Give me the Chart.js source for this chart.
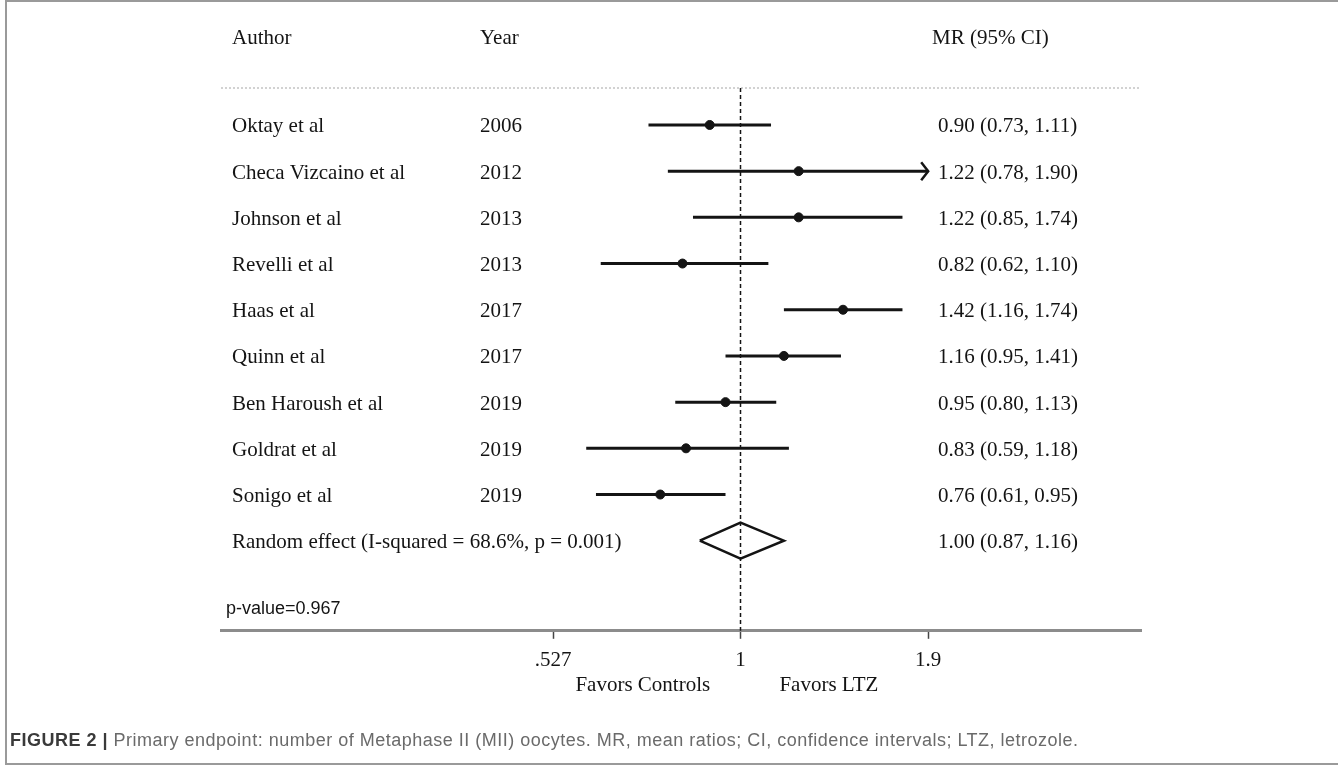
<!DOCTYPE html>
<html>
<head>
<meta charset="utf-8">
<title>Forest plot – MII oocytes</title>
<script src="https://cdn.jsdelivr.net/npm/chart.js@4.4.1/dist/chart.umd.min.js"></script>
<style>
  html, body { margin: 0; padding: 0; background: #fff; }
  #wrap { position: relative; width: 1338px; height: 767px; overflow: hidden; }
  #frame {
    position: absolute; left: 5px; top: 0; width: 1340px; height: 761px;
    border-top: 2px solid #9a9a9a; border-left: 2px solid #9a9a9a; border-bottom: 2px solid #9a9a9a;
  }
  #plot { position: absolute; left: 0; top: 0; }
  #caption {
    position: absolute; left: 10px; top: 730px; letter-spacing: 0.5px;
    font: 18px "Liberation Sans", Arial, sans-serif; color: #6a6a6a; white-space: nowrap;
  }
  #caption b { color: #3a3a3a; }
</style>
</head>
<body>
<div id="wrap">
  <div id="frame"></div>
  <canvas id="plot" width="1338" height="767"></canvas>
  <div id="caption"><b>FIGURE 2 |</b> Primary endpoint: number of Metaphase II (MII) oocytes. MR, mean ratios; CI, confidence intervals; LTZ, letrozole.</div>
</div>
<script>
'use strict';

// ── DATA ────────────────────────────────────────────────────────────────────
const AUTHORS = ['Oktay et al', 'Checa Vizcaino et al', 'Johnson et al', 'Revelli et al', 'Haas et al',
                 'Quinn et al', 'Ben Haroush et al', 'Goldrat et al', 'Sonigo et al'];
const YEARS   = [2006, 2012, 2013, 2013, 2017, 2017, 2019, 2019, 2019];
const MR      = [0.90, 1.22, 1.22, 0.82, 1.42, 1.16, 0.95, 0.83, 0.76];
const LOWER   = [0.73, 0.78, 0.85, 0.62, 1.16, 0.95, 0.80, 0.59, 0.61];
const UPPER   = [1.11, 1.90, 1.74, 1.10, 1.74, 1.41, 1.13, 1.18, 0.95];

const POOLED_LABEL = 'Random effect (I-squared = 68.6%, p = 0.001)';
const POOLED = [1.00, 0.87, 1.16];   // estimate, lower, upper
const P_VALUE_TEXT = 'p-value=0.967';

const TICK_VALUES = [0.527, 1, 1.9];
const TICK_LABELS = ['.527', '1', '1.9'];
const SIDE_LABELS = ['Favors Controls', 'Favors LTZ'];

// ── LOOK ────────────────────────────────────────────────────────────────────
const SERIF = '"Liberation Serif", "Times New Roman", serif';
const SANS  = '"Liberation Sans", Arial, sans-serif';
const INK   = '#141414';
const fmt = v => v.toFixed(2);

// ── DATASETS ────────────────────────────────────────────────────────────────
const ciSets = AUTHORS.map((a, i) => ({
  label: '_ci_' + i,
  type: 'line',
  data: [{ x: LOWER[i], y: i }, { x: UPPER[i], y: i }],
  borderColor: INK,
  borderWidth: 3,
  pointRadius: 0,
  fill: false
}));

const pointSet = {
  label: 'MR',
  type: 'scatter',
  data: MR.map((v, i) => ({ x: v, y: i })),
  backgroundColor: INK,
  borderColor: INK,
  pointRadius: 4.5,
  pointHoverRadius: 4.5
};

// pooled diamond, half height in row units
const pooledRow = AUTHORS.length;
const dh = 0.39;
const diamondSet = {
  label: 'Pooled',
  type: 'line',
  data: [
    { x: POOLED[1], y: pooledRow },
    { x: POOLED[0], y: pooledRow - dh },
    { x: POOLED[2], y: pooledRow },
    { x: POOLED[0], y: pooledRow + dh },
    { x: POOLED[1], y: pooledRow }
  ],
  borderColor: INK,
  borderWidth: 2.5,
  pointRadius: 0,
  fill: false,
  tension: 0
};

// ── TEXT + REFERENCE LINES ──────────────────────────────────────────────────
const forestPlugin = {
  id: 'forestText',
  beforeDatasetsDraw(chart) {
    const { ctx, chartArea, scales: { x } } = chart;
    ctx.save();
    // dotted header rule
    ctx.strokeStyle = '#c4c4c4';
    ctx.lineWidth = 1.5;
    ctx.setLineDash([2, 2]);
    ctx.beginPath();
    ctx.moveTo(chartArea.left, chartArea.top);
    ctx.lineTo(chartArea.right, chartArea.top);
    ctx.stroke();
    // null line at MR = 1
    const x1 = x.getPixelForValue(1);
    ctx.strokeStyle = INK;
    ctx.lineWidth = 1.5;
    ctx.setLineDash([4, 3]);
    ctx.beginPath();
    ctx.moveTo(x1, chartArea.top);
    ctx.lineTo(x1, chartArea.bottom);
    ctx.stroke();
    ctx.restore();
  },
  afterDraw(chart) {
    const { ctx, chartArea, scales: { x, y } } = chart;
    const off = 2; // serif glyphs sit a little high with a middle baseline
    ctx.save();
    ctx.fillStyle = INK;
    ctx.textBaseline = 'middle';
    ctx.font = '21px ' + SERIF;

    // header row
    ctx.fillText('Author', 232, 38);
    ctx.fillText('Year', 480, 38);
    ctx.fillText('MR (95% CI)', 932, 38);

    AUTHORS.forEach((a, i) => {
      const py = y.getPixelForValue(i) + off;
      ctx.fillText(a, 232, py);
      ctx.fillText(String(YEARS[i]), 480, py);
      ctx.fillText(fmt(MR[i]) + ' (' + fmt(LOWER[i]) + ', ' + fmt(UPPER[i]) + ')', 938, py);
    });

    const pyP = y.getPixelForValue(pooledRow) + off;
    ctx.fillText(POOLED_LABEL, 232, pyP);
    ctx.fillText(fmt(POOLED[0]) + ' (' + fmt(POOLED[1]) + ', ' + fmt(POOLED[2]) + ')', 938, pyP);

    // arrow where a CI reaches the last labelled tick
    const lastTick = TICK_VALUES[TICK_VALUES.length - 1];
    ctx.strokeStyle = INK;
    ctx.lineWidth = 2.5;
    UPPER.forEach((u, i) => {
      if (u < lastTick) return;
      const px = x.getPixelForValue(u);
      const py = y.getPixelForValue(i);
      ctx.beginPath();
      ctx.moveTo(px - 7, py - 9);
      ctx.lineTo(px, py);
      ctx.lineTo(px - 7, py + 9);
      ctx.stroke();
    });

    // p-value
    ctx.font = '18px ' + SANS;
    ctx.fillText(P_VALUE_TEXT, 226, chartArea.bottom - 22);

    // favours labels
    ctx.font = '21px ' + SERIF;
    ctx.textAlign = 'center';
    ctx.fillText(SIDE_LABELS[0], x.getPixelForValue(0.716), chartArea.bottom + 55);
    ctx.fillText(SIDE_LABELS[1], x.getPixelForValue(1.353), chartArea.bottom + 55);
    ctx.restore();
  }
};

// ── CHART ───────────────────────────────────────────────────────────────────
new Chart(document.getElementById('plot').getContext('2d'), {
  type: 'scatter',
  data: { datasets: [...ciSets, diamondSet, pointSet] },
  options: {
    responsive: false,
    animation: false,
    events: [],
    layout: { padding: { left: 221, right: 197, top: 88, bottom: 85 } },
    plugins: { legend: { display: false }, tooltip: { enabled: false } },
    scales: {
      x: {
        type: 'logarithmic',
        min: 0.1692,
        max: 3.934,
        afterBuildTicks: axis => { axis.ticks = TICK_VALUES.map(v => ({ value: v })); },
        ticks: {
          autoSkip: false,
          maxRotation: 0,
          padding: 9,
          color: INK,
          font: { family: SERIF, size: 21 },
          callback: v => TICK_LABELS[TICK_VALUES.indexOf(v)]
        },
        grid: { drawOnChartArea: false, drawTicks: true, tickLength: 8, tickWidth: 1.5, color: '#444' },
        border: { display: true, color: '#8c8c8c', width: 3 }
      },
      y: {
        type: 'linear',
        display: false,
        reverse: true,
        min: -0.8,
        max: 10.95
      }
    }
  },
  plugins: [forestPlugin]
});
</script>
</body>
</html>
